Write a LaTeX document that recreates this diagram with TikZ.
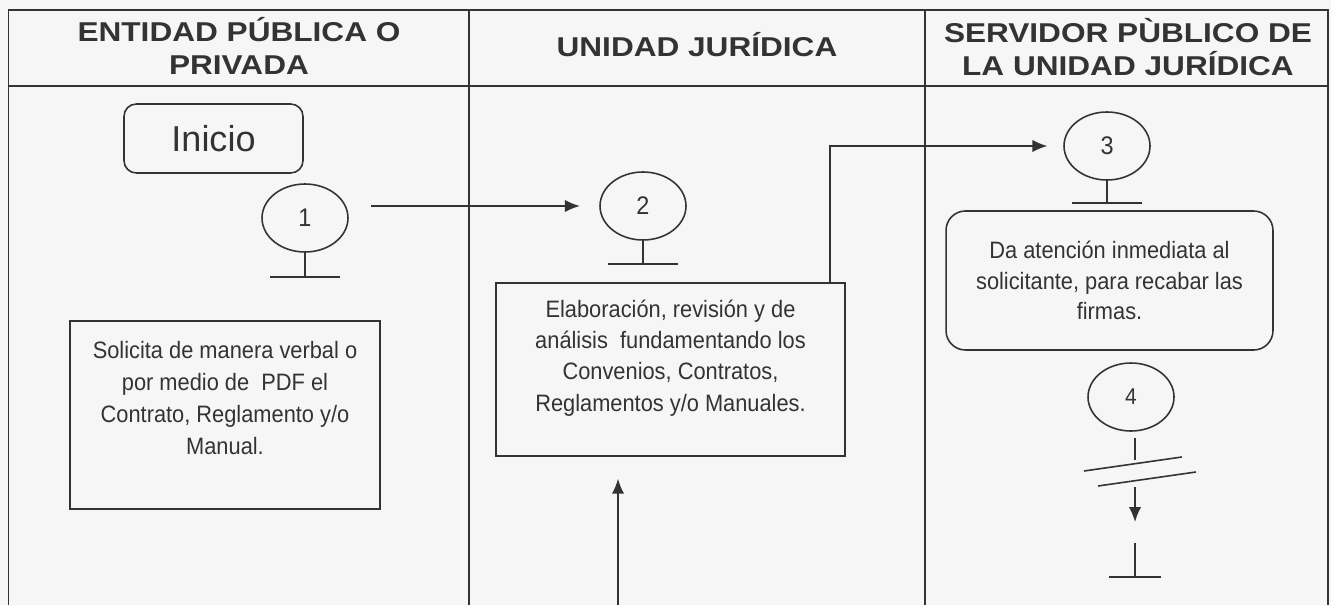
\documentclass[tikz,border=0pt]{standalone}
\usepackage{fontspec}
\setmainfont{Liberation Sans}
\newfontfamily\headfont{Liberation Sans}[FakeStretch=1.16]
\newfontfamily\bodyfont{Liberation Sans}[FakeStretch=0.92]
\usetikzlibrary{arrows.meta,shapes.geometric}
\definecolor{ink}{HTML}{333333}
\definecolor{paper}{HTML}{F6F6F6}
\tikzset{
  lane/.style={draw=ink, line width=0.7pt},
  hdr/.style={font=\headfont\bfseries\fontsize{15.5}{19}\selectfont, align=center},
  num/.style={draw, ellipse, minimum width=1.72cm, minimum height=1.36cm, inner sep=0pt, font=\bodyfont\fontsize{14.5}{16}\selectfont},
  txtbox/.style={draw, align=center, font=\bodyfont\fontsize{13.5}{17.8}\selectfont},
}
\begin{document}
\begin{tikzpicture}[x=0.02cm, y=-0.02cm, line width=0.9pt, color=ink, >={Latex[length=8.5pt,width=7pt]}]
    \useasboundingbox (0,0) rectangle (1331,605);
    \fill[paper] (0,0) rectangle (1331,605);

    % Lanes
    \draw[lane] (8.5,605) -- (8.5,10) -- (1328,10) -- (1328,605);
    \draw[lane] (8.5,86) -- (1328,86);
    \draw[lane] (469,10) -- (469,605);
    \draw[lane] (925,10) -- (925,605);

    % Headers
    \node[hdr] (h1) at (239,46) {ENTIDAD PÚBLICA O\\PRIVADA};
    \node[hdr] (h2) at (697,45) {UNIDAD JURÍDICA};
    \node[hdr] (h3) at (1128,47) {SERVIDOR PÙBLICO DE\\LA UNIDAD JURÍDICA};

    % Start
    \node[draw, rounded corners=7pt, minimum width=3.58cm, minimum height=1.38cm, font=\fontsize{20.5}{24}\selectfont] (inicio) at (213.5,138.5) {Inicio};

    % Steps
    \node[num] (c1) at (305,218) {1};
    \node[num] (c2) at (643,206) {2};
    \node[num] (c3) at (1107,146) {3};
    \node[num, font=\bodyfont\fontsize{13}{14}\selectfont] (c4) at (1131,397) {4};

    % Activities
    \node[txtbox, minimum width=6.2cm, minimum height=3.76cm, font=\bodyfont\fontsize{13.5}{18.2}\selectfont] (b1) at (225,415) {Solicita de manera verbal o\\por medio de\ \ PDF el\\Contrato, Reglamento y/o\\Manual.\\[1pt]\mbox{}};
    \node[txtbox, minimum width=6.98cm, minimum height=3.46cm] (b2) at (670.5,369.5) {Elaboración, revisión y de\\análisis\ \ fundamentando los\\Convenios, Contratos,\\Reglamentos y/o Manuales.\\[-2pt]\mbox{}};
    \node[txtbox, rounded corners=11pt, minimum width=6.54cm, minimum height=2.78cm, font=\bodyfont\fontsize{13.5}{17.3}\selectfont] (b3) at (1109.5,280.5) {Da atención inmediata al\\solicitante, para recabar las\\firmas.};

    % Stems
    \draw (c1.south) -- ++(0,24) coordinate (g1);
    \draw ([xshift=-20pt]g1) -- ([xshift=20pt]g1);
    \draw (c2.south) -- ++(0,23) coordinate (g2);
    \draw ([xshift=-20pt]g2) -- ([xshift=20pt]g2);
    \draw (c3.south) -- ++(0,22) coordinate (g3);
    \draw ([xshift=-20pt]g3) -- ([xshift=20pt]g3);

    % Arrows
    \draw[->, shorten <=12.8pt, shorten >=11pt] (c1.east |- c2) -- (c2.west);
    \draw[->, shorten >=9pt] ([xshift=-9pt]b2.north east) |- (c3.west);
    \coordinate (in2) at (618,605);
    \draw[->, shorten >=12.5pt] (in2) -- (in2 |- b2.south);

    % Break below 4
    \coordinate (s4a) at (1135,438);
    \coordinate (s4b) at (1135,460);
    \draw (s4a) -- (s4b);
    \draw (1084,471) -- (1182,457);
    \draw (1098,486) -- (1196,472);
    \coordinate (s4c) at (1135,487);
    \coordinate (s4d) at (1135,522);
    \draw[->] (s4c) -- (s4d);
    \coordinate (g4) at (1135,577);
    \draw (1135,543) -- (g4);
    \draw ([xshift=-15pt]g4) -- ([xshift=15pt]g4);
\end{tikzpicture}
\end{document}
